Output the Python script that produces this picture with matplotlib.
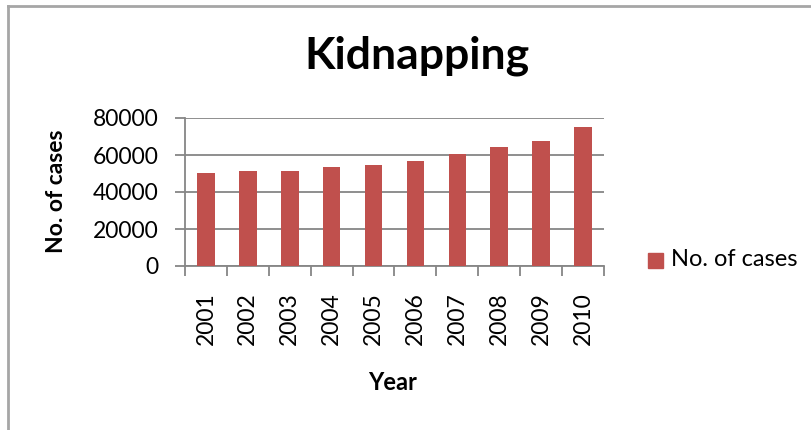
import numpy as np
import matplotlib
matplotlib.use("Agg")
import matplotlib.pyplot as plt
from matplotlib.lines import Line2D
from matplotlib.patches import Rectangle

plt.rcParams['font.family'] = ['Lato', 'DejaVu Sans']

years = ['2001', '2002', '2003', '2004', '2005',
         '2006', '2007', '2008', '2009', '2010']
cases = [50100, 51200, 51200, 53300, 54400,
         56600, 60400, 64200, 67400, 75000]
series_name = 'No. of cases'

bar_color = '#C0504D'
line_gray = '#868686'

W, H = 812, 430
fig = plt.figure(figsize=(W / 100, H / 100), dpi=100)


def fx(px):
    return px / W


def fy(py):
    return 1 - py / H


# chart area frame (only top and left edges visible)
fig.add_artist(Line2D([fx(8.5), fx(8.5)], [0, fy(5.5)],
                      transform=fig.transFigure, color='#a6a6a6', lw=2))
fig.add_artist(Line2D([fx(8.5), 1], [fy(5.5), fy(5.5)],
                      transform=fig.transFigure, color='#a6a6a6', lw=2))

ax = fig.add_axes([fx(185), fy(266), 419 / W, 148 / H])

x = np.arange(len(years))
ax.bar(x, cases, width=0.42, color=bar_color, zorder=3)

ax.set_xlim(-0.5, len(years) - 0.5)
ax.set_ylim(0, 80000)
ax.set_yticks(np.arange(0, 80001, 20000))
ax.yaxis.grid(True, color=line_gray, lw=1.3, zorder=0)

ax.set_xticks(x)
ax.set_xticklabels(years, rotation=90, fontsize=16.5)
ax.set_xticks(np.arange(-0.5, len(years)), minor=True)
ax.tick_params(axis='x', which='major', length=0, pad=19)
ax.tick_params(axis='x', which='minor', length=7, width=1.3, color=line_gray)
ax.tick_params(axis='y', length=7, width=1.3, color=line_gray,
               labelsize=16.5, pad=12)

for side in ['top', 'right']:
    ax.spines[side].set_visible(False)
for side in ['left', 'bottom']:
    ax.spines[side].set_color(line_gray)
    ax.spines[side].set_linewidth(1.3)

# axis titles
fig.text(fx(393), fy(383), 'Year', fontsize=17, fontweight='bold',
         ha='center', va='center')
fig.text(fx(57), fy(191), series_name, fontsize=16.5, fontweight='bold',
         rotation=90, ha='center', va='center')

fig.text(fx(417), fy(69), 'Kidnapping', fontsize=32,
         fontweight='bold', ha='center', va='baseline')

# legend
fig.add_artist(Rectangle((fx(648), fy(268)), 15 / W, 15 / H,
                         transform=fig.transFigure, color=bar_color))
fig.text(fx(671), fy(259), series_name, fontsize=17,
         ha='left', va='center')

fig.savefig('out.png', dpi=100)
